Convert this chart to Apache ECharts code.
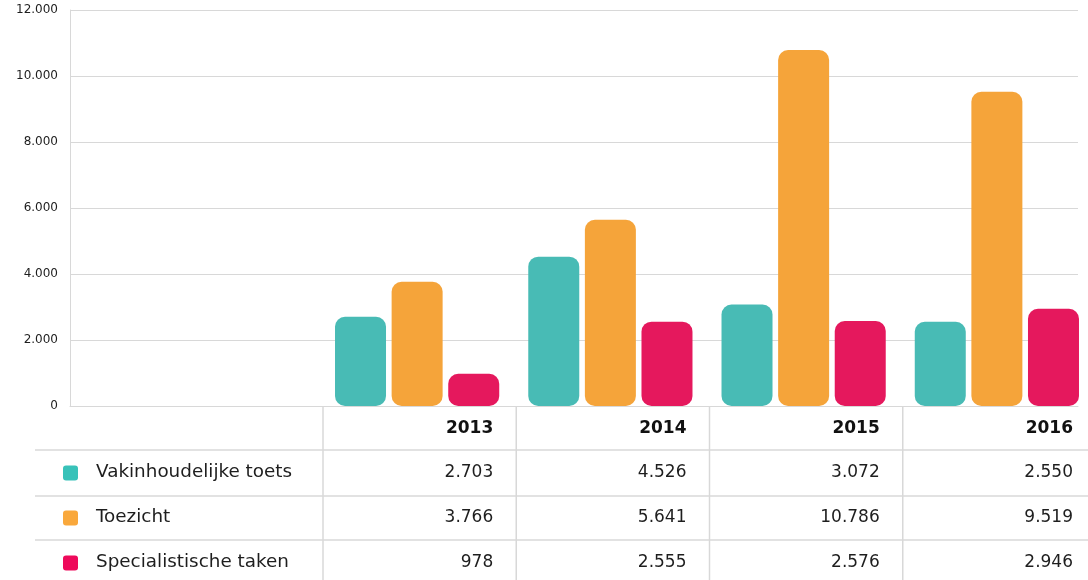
<!DOCTYPE html>
<html>
<head>
<meta charset="utf-8">
<script src="https://cdn.jsdelivr.net/npm/echarts@6/dist/echarts.min.js"></script>
<style>
html,body{margin:0;padding:0;background:#fff;overflow:hidden;width:1088px;height:580px;}
#chart{width:1100px;height:580px;}
</style>
</head>
<body>
<div id="chart"></div>
<script>
// ---- data ----
const categories = ['2013', '2014', '2015', '2016'];
const seriesNames = ['Vakinhoudelijke toets', 'Toezicht', 'Specialistische taken'];
const vakinhoudelijkeToets = [2703, 4526, 3072, 2550];
const toezicht = [3766, 5641, 10786, 9519];
const specialistischeTaken = [978, 2555, 2576, 2946];
const yTickValues = [0, 2000, 4000, 6000, 8000, 10000, 12000];

// ---- style ----
const barColors = ['#48BBB5', '#F5A43A', '#E5185D'];
const legendColors = ['#38C2B9', '#F9A83C', '#EE0A5B'];
const lineColor = '#d8d8d8';
const textColor = '#1e1e1e';
const FONT = '"DejaVu Sans", sans-serif';

const seriesValues = [vakinhoudelijkeToets, toezicht, specialistischeTaken];

function fmt(v) {
  return String(v).replace(/\B(?=(\d{3})+(?!\d))/g, '.');
}

const chart = echarts.init(document.getElementById('chart'), null, {renderer: 'canvas'});

const yMin = yTickValues[0];
const yMax = yTickValues[yTickValues.length - 1];
const yInterval = yTickValues[1] - yTickValues[0];

const barGridLeft = 320.5;
const barGridWidth = 773;
const colShift = 2.5;

const option = {
  animation: false,
  backgroundColor: '#fff',
  grid: [
    {left: 70, top: 10, width: 1008, height: 396},
    {left: barGridLeft, top: 10, width: barGridWidth, height: 396}
  ],
  xAxis: [
    {
      gridIndex: 0, type: 'value', min: 0, max: 1,
      axisLine: {show: true, onZero: false, lineStyle: {color: lineColor, width: 1}},
      axisTick: {show: false}, axisLabel: {show: false}, splitLine: {show: false}
    },
    {
      gridIndex: 1, type: 'category', data: categories,
      axisLine: {show: false}, axisTick: {show: false}, axisLabel: {show: false}, splitLine: {show: false}
    }
  ],
  yAxis: [
    {
      gridIndex: 0, type: 'value', min: yMin, max: yMax, interval: yInterval,
      axisLine: {show: true, lineStyle: {color: lineColor, width: 1}},
      axisTick: {show: false},
      axisLabel: {
        color: textColor, fontFamily: FONT, fontSize: 12, margin: 12,
        formatter: v => fmt(v)
      },
      splitLine: {show: true, lineStyle: {color: lineColor, width: 1}}
    },
    {
      gridIndex: 1, type: 'value', min: yMin, max: yMax, interval: yInterval,
      axisLine: {show: false}, axisTick: {show: false}, axisLabel: {show: false}, splitLine: {show: false}
    }
  ],
  series: seriesNames.map((name, i) => ({
    name: name,
    type: 'bar',
    xAxisIndex: 1,
    yAxisIndex: 1,
    data: seriesValues[i],
    barWidth: 51,
    barGap: '11%',
    itemStyle: {color: barColors[i], borderRadius: 10}
  }))
};

chart.setOption(option);

// ---- table below the chart, positioned from the category axis ----
const band = barGridWidth / categories.length;
const tableTop = 406, headerY = 429;
const rowY = [473, 518, 563];
const rowLines = [450, 496, 540];
const graphics = [];

rowLines.forEach(y => {
  graphics.push({
    type: 'line', silent: true,
    shape: {x1: 35, y1: y, x2: 1100, y2: y},
    style: {stroke: lineColor, lineWidth: 1.5}
  });
});

categories.forEach((cat, ci) => {
  const cx = chart.convertToPixel({xAxisIndex: 1}, cat) + colShift;
  const left = cx - band / 2;
  const right = cx + band / 2;
  graphics.push({
    type: 'line', silent: true,
    shape: {x1: left, y1: tableTop, x2: left, y2: 580},
    style: {stroke: lineColor, lineWidth: 1.5}
  });
  graphics.push({
    type: 'text', silent: true,
    style: {
      text: cat, x: right - 23, y: headerY,
      align: 'right', verticalAlign: 'middle',
      font: 'bold 17px ' + FONT, fill: '#111'
    }
  });
  seriesValues.forEach((vals, si) => {
    graphics.push({
      type: 'text', silent: true,
      style: {
        text: fmt(vals[ci]), x: right - 23, y: rowY[si],
        align: 'right', verticalAlign: 'middle',
        font: '17px ' + FONT, fill: textColor
      }
    });
  });
});

seriesNames.forEach((name, si) => {
  graphics.push({
    type: 'rect', silent: true,
    shape: {x: 63, y: rowY[si] - 7.5, width: 15, height: 15, r: 3},
    style: {fill: legendColors[si]}
  });
  graphics.push({
    type: 'text', silent: true,
    x: 96, y: rowY[si], scaleX: 1.08,
    style: {
      text: name, x: 0, y: 0,
      align: 'left', verticalAlign: 'middle',
      font: '17px ' + FONT, fill: textColor
    }
  });
});

chart.setOption({graphic: graphics});
</script>
</body>
</html>
